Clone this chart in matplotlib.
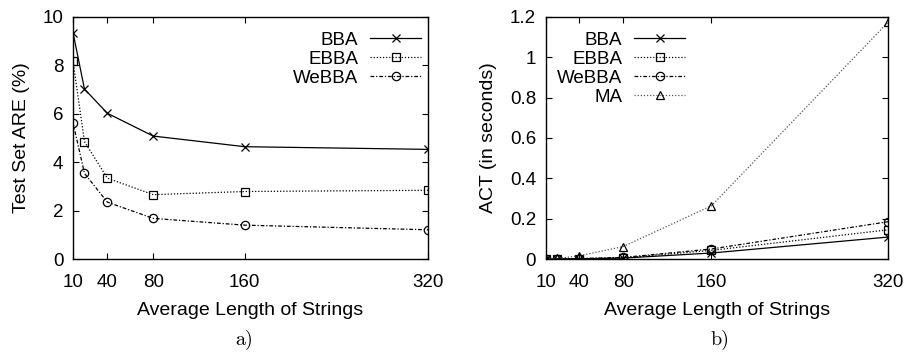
import matplotlib
matplotlib.use("Agg")
import matplotlib.pyplot as plt
from matplotlib.ticker import FormatStrFormatter

plt.rcParams['font.family'] = ['Liberation Sans', 'DejaVu Sans']

lengths = [10, 20, 40, 80, 160, 320]
x_ticks = [10, 40, 80, 160, 320]

# Panel a) Test set ARE (%)
are_bba = [9.35, 7.02, 6.02, 5.08, 4.64, 4.53]
are_ebba = [8.17, 4.85, 3.34, 2.66, 2.79, 2.84]
are_webba = [5.63, 3.54, 2.35, 1.68, 1.40, 1.21]

# Panel b) ACT (in seconds)
act_bba = [0.0003, 0.0006, 0.0015, 0.005, 0.030, 0.109]
act_ebba = [0.0004, 0.0008, 0.002, 0.006, 0.043, 0.145]
act_webba = [0.0005, 0.001, 0.0025, 0.008, 0.050, 0.185]
act_ma = [0.001, 0.003, 0.016, 0.062, 0.264, 1.173]

fig = plt.figure(figsize=(9.06, 3.52), dpi=100)
axL = fig.add_axes([0.0806, 0.264, 0.3918, 0.688])
axR = fig.add_axes([0.6026, 0.264, 0.3775, 0.688])

lw = 0.9
ms = 6
styles = {
    'BBA': dict(ls='-', marker='x'),
    'EBBA': dict(ls=(0, (1, 1.5)), marker='s'),
    'WeBBA': dict(ls=(0, (3, 1.5, 1, 1.5)), marker='o'),
    'MA': dict(ls=(0, (1, 1.5)), marker='^'),
}

def plot(ax, y, name, color='black'):
    st = styles[name]
    ax.plot(lengths, y, color=color, lw=lw, ls=st['ls'], marker=st['marker'],
            ms=ms, mfc='none', mec='black', mew=0.9, label=name)

plot(axL, are_bba, 'BBA')
plot(axL, are_ebba, 'EBBA')
plot(axL, are_webba, 'WeBBA')

plot(axR, act_bba, 'BBA')
plot(axR, act_ebba, 'EBBA')
plot(axR, act_webba, 'WeBBA')
plot(axR, act_ma, 'MA', color='#555555')

for ax in (axL, axR):
    ax.set_xlim(10, 320)
    ax.set_xticks(x_ticks)
    ax.tick_params(direction='in', top=True, right=True, length=4, width=0.8,
                   labelsize=13.5)
    ax.tick_params(axis='x', pad=11)
    ax.tick_params(axis='y', pad=7)
    for s in ax.spines.values():
        s.set_linewidth(1.0)
    ax.set_xlabel('Average Length of Strings', fontsize=14, labelpad=8)

axL.set_ylim(0, 10)
axL.set_yticks([0, 2, 4, 6, 8, 10])
axL.set_ylabel('Test Set ARE (%)', fontsize=14, labelpad=9)

axR.set_ylim(0, 1.2)
axR.set_yticks([0, 0.2, 0.4, 0.6, 0.8, 1.0, 1.2])
axR.yaxis.set_major_formatter(FormatStrFormatter('%g'))
axR.set_ylabel('ACT (in seconds)', fontsize=14, labelpad=9)

legkw = dict(frameon=False, markerfirst=False, borderpad=0, borderaxespad=0,
             handlelength=2.7, handletextpad=0.65, labelspacing=0.1,
             fontsize=13.5)
axL.legend(loc='upper right', bbox_to_anchor=(0.98, 0.938), **legkw)
axR.legend(loc='upper right', bbox_to_anchor=(0.406, 0.938), **legkw)

fig.text(0.27, 0.035, 'a)', family='cmr10', fontsize=14.5, ha='center', va='center')
fig.text(0.795, 0.035, 'b)', family='cmr10', fontsize=14.5, ha='center', va='center')

fig.savefig('out.png', dpi=100)
